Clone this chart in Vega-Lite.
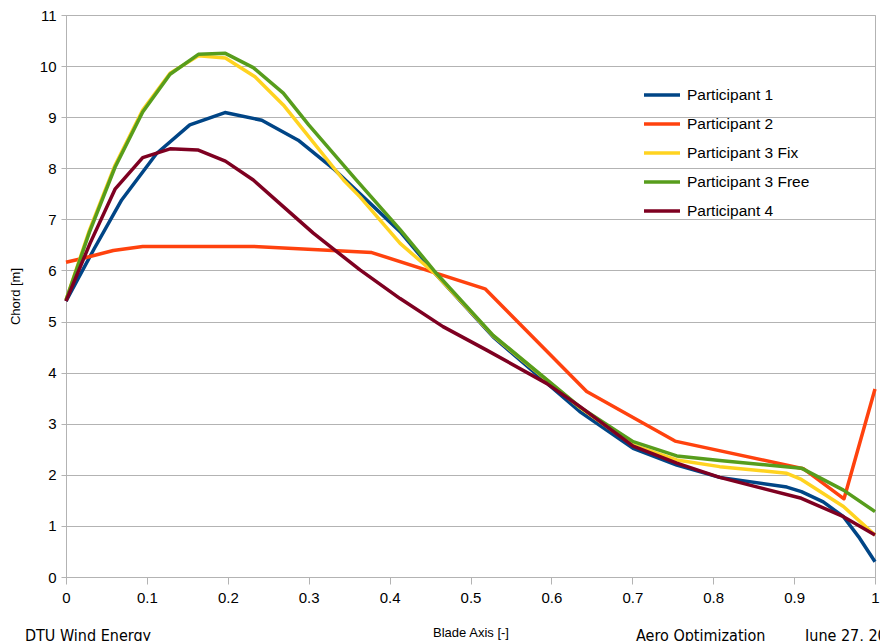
{
  "$schema": "https://vega.github.io/schema/vega-lite/v6.json",
  "width": 809,
  "height": 562,
  "autosize": "none",
  "padding": {"left": 66, "top": 15, "right": 5, "bottom": 64},
  "background": "white",
  "config": {
    "view": {"stroke": "#b3b3b3", "strokeWidth": 1},
    "font": "Liberation Sans",
    "axis": {
      "labelFont": "Liberation Sans",
      "labelFontSize": 15,
      "labelColor": "#000000",
      "titleFont": "Liberation Sans",
      "titleFontWeight": "normal",
      "titleFontSize": 13,
      "titleColor": "#000000",
      "domainColor": "#b3b3b3",
      "tickColor": "#b3b3b3",
      "gridColor": "#b3b3b3"
    },
    "legend": {"labelFont": "Liberation Sans", "labelFontSize": 15.5, "labelColor": "#000000"}
  },
  "datasets": {
    "lines": [
      {"s": "Participant 1", "x": 0, "y": 5.40},
      {"s": "Participant 1", "x": 0.035, "y": 6.43},
      {"s": "Participant 1", "x": 0.0688, "y": 7.38},
      {"s": "Participant 1", "x": 0.112, "y": 8.29},
      {"s": "Participant 1", "x": 0.153, "y": 8.85},
      {"s": "Participant 1", "x": 0.1965, "y": 9.09},
      {"s": "Participant 1", "x": 0.242, "y": 8.94},
      {"s": "Participant 1", "x": 0.287, "y": 8.55},
      {"s": "Participant 1", "x": 0.33, "y": 8.0},
      {"s": "Participant 1", "x": 0.413, "y": 6.76},
      {"s": "Participant 1", "x": 0.458, "y": 5.91},
      {"s": "Participant 1", "x": 0.528, "y": 4.70},
      {"s": "Participant 1", "x": 0.635, "y": 3.24},
      {"s": "Participant 1", "x": 0.701, "y": 2.52},
      {"s": "Participant 1", "x": 0.755, "y": 2.19},
      {"s": "Participant 1", "x": 0.808, "y": 1.95},
      {"s": "Participant 1", "x": 0.891, "y": 1.76},
      {"s": "Participant 1", "x": 0.909, "y": 1.67},
      {"s": "Participant 1", "x": 0.936, "y": 1.47},
      {"s": "Participant 1", "x": 0.961, "y": 1.18},
      {"s": "Participant 1", "x": 0.981, "y": 0.76},
      {"s": "Participant 1", "x": 1.0, "y": 0.30},
      {"s": "Participant 2", "x": 0, "y": 6.16},
      {"s": "Participant 2", "x": 0.0214, "y": 6.24},
      {"s": "Participant 2", "x": 0.0585, "y": 6.39},
      {"s": "Participant 2", "x": 0.0948, "y": 6.47},
      {"s": "Participant 2", "x": 0.2315, "y": 6.47},
      {"s": "Participant 2", "x": 0.378, "y": 6.35},
      {"s": "Participant 2", "x": 0.518, "y": 5.64},
      {"s": "Participant 2", "x": 0.6436, "y": 3.63},
      {"s": "Participant 2", "x": 0.7528, "y": 2.66},
      {"s": "Participant 2", "x": 0.9114, "y": 2.12},
      {"s": "Participant 2", "x": 0.9617, "y": 1.53},
      {"s": "Participant 2", "x": 1.0, "y": 3.68},
      {"s": "Participant 3 Fix", "x": 0, "y": 5.42},
      {"s": "Participant 3 Fix", "x": 0.029, "y": 6.79},
      {"s": "Participant 3 Fix", "x": 0.0606, "y": 8.06},
      {"s": "Participant 3 Fix", "x": 0.0948, "y": 9.14},
      {"s": "Participant 3 Fix", "x": 0.1286, "y": 9.86},
      {"s": "Participant 3 Fix", "x": 0.1636, "y": 10.20},
      {"s": "Participant 3 Fix", "x": 0.197, "y": 10.16},
      {"s": "Participant 3 Fix", "x": 0.2336, "y": 9.79},
      {"s": "Participant 3 Fix", "x": 0.2686, "y": 9.24},
      {"s": "Participant 3 Fix", "x": 0.343, "y": 7.77},
      {"s": "Participant 3 Fix", "x": 0.3634, "y": 7.44},
      {"s": "Participant 3 Fix", "x": 0.413, "y": 6.53},
      {"s": "Participant 3 Fix", "x": 0.458, "y": 5.91},
      {"s": "Participant 3 Fix", "x": 0.528, "y": 4.72},
      {"s": "Participant 3 Fix", "x": 0.635, "y": 3.32},
      {"s": "Participant 3 Fix", "x": 0.701, "y": 2.58},
      {"s": "Participant 3 Fix", "x": 0.755, "y": 2.29},
      {"s": "Participant 3 Fix", "x": 0.808, "y": 2.16},
      {"s": "Participant 3 Fix", "x": 0.891, "y": 2.03},
      {"s": "Participant 3 Fix", "x": 0.909, "y": 1.91},
      {"s": "Participant 3 Fix", "x": 0.961, "y": 1.38},
      {"s": "Participant 3 Fix", "x": 1.0, "y": 0.82},
      {"s": "Participant 3 Free", "x": 0, "y": 5.42},
      {"s": "Participant 3 Free", "x": 0.029, "y": 6.75},
      {"s": "Participant 3 Free", "x": 0.0606, "y": 8.02},
      {"s": "Participant 3 Free", "x": 0.0948, "y": 9.10},
      {"s": "Participant 3 Free", "x": 0.1286, "y": 9.84},
      {"s": "Participant 3 Free", "x": 0.1636, "y": 10.23},
      {"s": "Participant 3 Free", "x": 0.197, "y": 10.25},
      {"s": "Participant 3 Free", "x": 0.2315, "y": 9.97},
      {"s": "Participant 3 Free", "x": 0.2686, "y": 9.47},
      {"s": "Participant 3 Free", "x": 0.3, "y": 8.85},
      {"s": "Participant 3 Free", "x": 0.359, "y": 7.77},
      {"s": "Participant 3 Free", "x": 0.413, "y": 6.80},
      {"s": "Participant 3 Free", "x": 0.458, "y": 5.94},
      {"s": "Participant 3 Free", "x": 0.528, "y": 4.73},
      {"s": "Participant 3 Free", "x": 0.635, "y": 3.33},
      {"s": "Participant 3 Free", "x": 0.701, "y": 2.65},
      {"s": "Participant 3 Free", "x": 0.755, "y": 2.37},
      {"s": "Participant 3 Free", "x": 0.808, "y": 2.28},
      {"s": "Participant 3 Free", "x": 0.909, "y": 2.13},
      {"s": "Participant 3 Free", "x": 0.961, "y": 1.70},
      {"s": "Participant 3 Free", "x": 1.0, "y": 1.28},
      {"s": "Participant 4", "x": 0, "y": 5.40},
      {"s": "Participant 4", "x": 0.0297, "y": 6.53},
      {"s": "Participant 4", "x": 0.0606, "y": 7.59},
      {"s": "Participant 4", "x": 0.0948, "y": 8.21},
      {"s": "Participant 4", "x": 0.1286, "y": 8.38},
      {"s": "Participant 4", "x": 0.1628, "y": 8.36},
      {"s": "Participant 4", "x": 0.197, "y": 8.14},
      {"s": "Participant 4", "x": 0.2315, "y": 7.77},
      {"s": "Participant 4", "x": 0.2686, "y": 7.25},
      {"s": "Participant 4", "x": 0.3057, "y": 6.73},
      {"s": "Participant 4", "x": 0.3634, "y": 6.01},
      {"s": "Participant 4", "x": 0.413, "y": 5.45},
      {"s": "Participant 4", "x": 0.466, "y": 4.90},
      {"s": "Participant 4", "x": 0.52, "y": 4.44},
      {"s": "Participant 4", "x": 0.594, "y": 3.79},
      {"s": "Participant 4", "x": 0.635, "y": 3.34},
      {"s": "Participant 4", "x": 0.701, "y": 2.56},
      {"s": "Participant 4", "x": 0.755, "y": 2.23},
      {"s": "Participant 4", "x": 0.808, "y": 1.95},
      {"s": "Participant 4", "x": 0.909, "y": 1.54},
      {"s": "Participant 4", "x": 0.961, "y": 1.18},
      {"s": "Participant 4", "x": 1.0, "y": 0.82}
    ],
    "footer": [
      {"t": "DTU Wind Energy", "x": -0.0507, "y": -1.26},
      {"t": "Aero Optimization", "x": 0.7046, "y": -1.26},
      {"t": "June 27, 20", "x": 0.9135, "y": -1.26}
    ]
  },
  "layer": [
    {
      "data": {"name": "lines"},
      "mark": {"type": "line", "strokeWidth": 3.5, "strokeJoin": "round"},
      "encoding": {
        "x": {
          "field": "x", "type": "quantitative",
          "scale": {"domain": [0, 1], "nice": false, "zero": false},
          "axis": {
            "title": "Blade Axis [-]",
            "values": [0, 0.1, 0.2, 0.3, 0.4, 0.5, 0.6, 0.7, 0.8, 0.9, 1],
            "format": "~g",
            "grid": false,
            "tickSize": 7,
            "labelPadding": 6,
            "titlePadding": 21,
            "labelFlush": false
          }
        },
        "y": {
          "field": "y", "type": "quantitative",
          "scale": {"domain": [0, 11], "nice": false},
          "axis": {
            "title": "Chord [m]",
            "values": [0, 1, 2, 3, 4, 5, 6, 7, 8, 9, 10, 11],
            "grid": true,
            "tickSize": 5,
            "labelPadding": 5,
            "titlePadding": 17
          }
        },
        "color": {
          "field": "s", "type": "nominal",
          "scale": {
            "domain": ["Participant 1", "Participant 2", "Participant 3 Fix", "Participant 3 Free", "Participant 4"],
            "range": ["#004586", "#ff420e", "#ffd320", "#579d1c", "#7e0021"]
          },
          "legend": {
            "title": null,
            "orient": "none",
            "legendX": 576,
            "legendY": 60,
            "symbolType": "stroke",
            "symbolSize": 1296,
            "symbolStrokeWidth": 3.5,
            "rowPadding": 0,
            "labelOffset": 5
          }
        }
      }
    },
    {
      "data": {"name": "footer"},
      "mark": {"type": "text", "align": "left", "baseline": "alphabetic", "fontSize": 16, "font": "DejaVu Sans Condensed, Liberation Sans, sans-serif", "color": "#000000"},
      "encoding": {
        "x": {"field": "x", "type": "quantitative"},
        "y": {"field": "y", "type": "quantitative"},
        "text": {"field": "t"}
      }
    }
  ]
}
